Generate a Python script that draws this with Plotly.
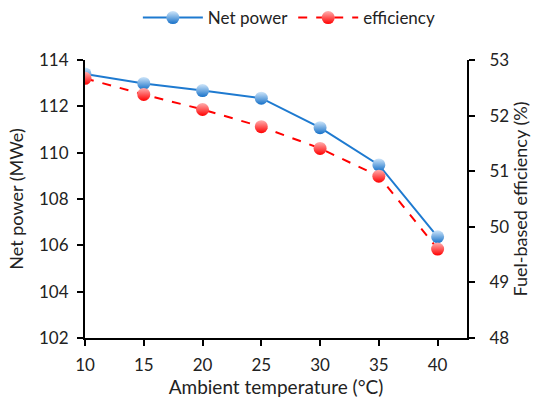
import plotly.graph_objects as go

temps = [10, 15, 20, 25, 30, 35, 40]
net_power = [113.40, 112.99, 112.68, 112.35, 111.08, 109.47, 106.37]
efficiency = [52.67, 52.38, 52.11, 51.80, 51.41, 50.91, 49.60]

FONT = "Lato"

fig = go.Figure()
fig.add_trace(go.Scatter(
    x=temps, y=net_power, name="Net power", mode="lines+markers",
    line=dict(color="#1E7AD0", width=2),
    marker=dict(size=13, color="#CFE6FA",
                gradient=dict(type="vertical", color="#1570C8")),
))
fig.add_trace(go.Scatter(
    x=temps, y=efficiency, name="efficiency", mode="lines+markers", yaxis="y2",
    line=dict(color="#FF0000", width=2, dash="dash"),
    marker=dict(size=13, color="#FFB0B0",
                gradient=dict(type="vertical", color="#FF0000")),
))

axis_common = dict(showline=True, linecolor="black", linewidth=2,
                   ticks="outside", ticklen=6, tickwidth=2, tickcolor="black",
                   showgrid=False, zeroline=False, tickfont=dict(size=17),
                   automargin=False)

fig.update_layout(
    width=535, height=406,
    margin=dict(l=85, r=68, t=60, b=68),
    paper_bgcolor="white", plot_bgcolor="white",
    font=dict(family=FONT, size=17, color="#222"),
    showlegend=True,
    legend=dict(orientation="h", x=0.535, xanchor="center", y=1.0, yref="container",
                yanchor="top", font=dict(size=17), itemwidth=60, traceorder="normal"),
    xaxis=dict(range=[10, 42.5], tickvals=[10, 15, 20, 25, 30, 35, 40],
               ticklabelstandoff=5,
               title=dict(text="Ambient temperature (°C)", font=dict(size=19), standoff=0),
               **axis_common),
    yaxis=dict(range=[102, 114], dtick=2, tick0=102, ticklabelstandoff=5,
               title=dict(text="Net power (MWe)", font=dict(size=18), standoff=11),
               **axis_common),
    yaxis2=dict(range=[48, 53], dtick=1, tick0=48, overlaying="y", side="right",
                ticklabelstandoff=11,
                title=dict(text="Fuel-based efficiency (%)", font=dict(size=18), standoff=6),
                **axis_common),
)

fig.write_html("out.html")
